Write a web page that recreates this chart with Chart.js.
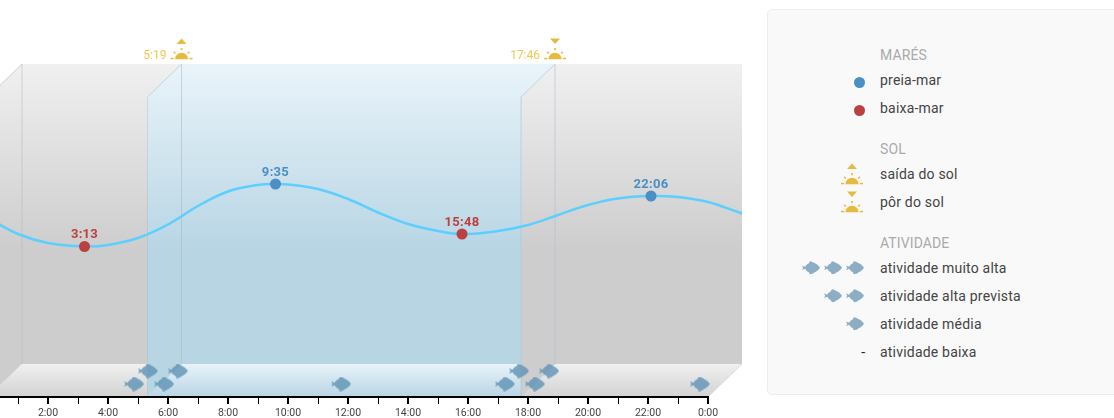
<!DOCTYPE html>
<html lang="pt">
<head>
<meta charset="utf-8">
<title>Marés</title>
<script src="https://cdn.jsdelivr.net/npm/chart.js@4"></script>
<style>
  html, body { margin: 0; padding: 0; width: 1114px; height: 418px; overflow: hidden; background: #fff; font-family: Roboto, sans-serif; }
  #tideChart { position: absolute; left: 0; top: 0; }
  #legendPanel { position: absolute; left: 767px; top: 9px; width: 400px; height: 384px; background: #f9f9f9; border: 1px solid #eee; border-radius: 5px; }
  .legend-row { position: absolute; left: 880px; font-size: 14px; line-height: 18px; color: #444; white-space: nowrap; letter-spacing: 0.2px; }
  .legend-title { color: #aaa; letter-spacing: 0.1px; }
  .legend-icons { position: absolute; right: 250px; display: flex; gap: 4px; align-items: center; justify-content: flex-end; height: 18px; }
  .legend-dot { width: 11px; height: 11px; border-radius: 50%; margin-right: -1px; }
  .legend-dash { color: #222; font-size: 14px; margin-right: -1px; margin-top: -1px; }
</style>
</head>
<body>
<canvas id="tideChart" width="742" height="418"></canvas>
<div id="legendPanel"></div>
<script>
// Tide curve, hours of the day and water level
const tideHours = [0, 1, 2, 3.217, 4, 5, 6, 7, 8, 9, 9.583, 10, 11, 12, 13, 14, 15, 15.8, 17, 18, 19, 20, 21, 22.1, 23, 24, 25, 26];
const tideLevels = [179, 163, 154, 150.5, 152, 159, 172.5, 191, 205.5, 212, 213, 212.5, 208, 198, 184.5, 173, 166, 163, 166, 172, 182, 192, 198.5, 201, 200, 195, 185, 175];

const highHours = [9.583, 22.1];
const highLevels = [213, 201];
const highLabels = ['9:35', '22:06'];

const lowHours = [3.217, 15.8];
const lowLevels = [150.5, 163];
const lowLabels = ['3:13', '15:48'];

// Sun
const sunriseHour = 5.317;
const sunsetHour = 17.767;
const sunLevel = 348;
const sunriseLabel = '5:19';
const sunsetLabel = '17:46';

// Fish activity marks on the two rows of the floor
const fishUpperHours = [5.33, 6.33, 17.7, 18.7];
const fishLowerHours = [4.87, 5.87, 11.77, 17.23, 18.23, 23.73];
const fishUpperLevel = 26;
const fishLowerLevel = 13;

// Axis and box
const hourTicks = [1, 2, 3, 4, 5, 6, 7, 8, 9, 10, 11, 12, 13, 14, 15, 16, 17, 18, 19, 20, 21, 22, 23, 24];
const xMin = 0.4;
const xMax = 25.133;
const yMax = 397;
const boxFrontTop = 300;
const depthHours = 34 / 30;
const depthLevels = 33;

const sunColor = '#e6b93f';
const sunTextColor = '#f4c650';
const highColor = '#4a90c4';
const lowColor = '#bb4040';

function makeFish(color, scale) {
    const c = document.createElement('canvas');
    c.width = Math.ceil(20 * scale);
    c.height = Math.ceil(15 * scale);
    const g = c.getContext('2d');
    g.scale(scale, scale);
    g.fillStyle = color;
    g.beginPath();
    g.moveTo(0, 5);
    g.lineTo(3.6, 6.3);
    g.bezierCurveTo(4.6, 4.6, 5.6, 3.4, 7.4, 2.8);
    g.lineTo(8.8, 0.2);
    g.bezierCurveTo(11, 0.4, 12.6, 1.2, 13.6, 2.2);
    g.bezierCurveTo(16.4, 3.2, 18.6, 5.4, 20, 7.5);
    g.bezierCurveTo(18.6, 9.6, 16.4, 11.8, 13.6, 12.8);
    g.bezierCurveTo(12.6, 13.8, 11, 14.6, 8.8, 14.8);
    g.lineTo(7.4, 12.2);
    g.bezierCurveTo(5.6, 11.6, 4.6, 10.4, 3.6, 8.7);
    g.lineTo(0, 10);
    g.lineTo(1.3, 7.5);
    g.closePath();
    g.fill();
    return c;
}

function makeSun(isRise) {
    const c = document.createElement('canvas');
    c.width = 24;
    c.height = 22;
    const g = c.getContext('2d');
    g.fillStyle = sunColor;
    g.beginPath();
    if (isRise) {
        g.moveTo(7, 6); g.lineTo(17, 6); g.lineTo(12, 0.5);
    } else {
        g.moveTo(7, 0.5); g.lineTo(17, 0.5); g.lineTo(12, 6);
    }
    g.closePath();
    g.fill();
    // half disc
    g.beginPath();
    g.moveTo(5.5, 21.2);
    g.arc(12, 21.2, 6.5, Math.PI, 0);
    g.closePath();
    g.fill();
    // rays
    g.fillRect(11.2, 10, 1.6, 2.2);
    g.fillRect(1, 19.8, 3.2, 1.5);
    g.fillRect(19.8, 19.8, 3.2, 1.5);
    g.save();
    g.translate(5, 14.6);
    g.rotate(Math.PI / 4);
    g.fillRect(-1.2, -0.7, 2.4, 1.4);
    g.restore();
    g.save();
    g.translate(19, 14.6);
    g.rotate(-Math.PI / 4);
    g.fillRect(-1.2, -0.7, 2.4, 1.4);
    g.restore();
    return c;
}

function toPoints(xs, ys) {
    return xs.map(function(x, i) { return { x: x, y: ys[i] }; });
}

function fillPoly(ctx, pts, fill) {
    ctx.fillStyle = fill;
    ctx.beginPath();
    pts.forEach(function(p, i) {
        if (i === 0) ctx.moveTo(p[0], p[1]); else ctx.lineTo(p[0], p[1]);
    });
    ctx.closePath();
    ctx.fill();
}

function strokeLine(ctx, x1, y1, x2, y2, color, width) {
    ctx.strokeStyle = color;
    ctx.lineWidth = width;
    ctx.beginPath();
    ctx.moveTo(x1, y1);
    ctx.lineTo(x2, y2);
    ctx.stroke();
}

// Box walls and floor behind the datasets
const boxPlugin = {
    id: 'tideBox',
    beforeDatasetsDraw: function(chart) {
        const ctx = chart.ctx;
        const sx = chart.scales.x;
        const sy = chart.scales.y;
        const dx = sx.getPixelForValue(depthHours) - sx.getPixelForValue(0);
        const dy = sy.getPixelForValue(0) - sy.getPixelForValue(depthLevels);
        const frontTop = sy.getPixelForValue(boxFrontTop);
        const frontBottom = sy.getPixelForValue(0);
        const backTop = frontTop - dy;
        const backBottom = frontBottom - dy;
        const x0 = sx.getPixelForValue(0);
        const x1 = sx.getPixelForValue(sunriseHour);
        const x2 = sx.getPixelForValue(sunsetHour);
        const x3 = sx.getPixelForValue(24);

        function grad(top, bottom, a, b, stop) {
            const g = ctx.createLinearGradient(0, top, 0, bottom);
            g.addColorStop(0, a);
            g.addColorStop(stop, b);
            g.addColorStop(1, b);
            return g;
        }
        const grayWall = grad(backTop, backBottom, '#f0f0f0', '#cdcdcd', 0.62);
        const blueWall = grad(backTop, backBottom, '#e9f4fa', '#b8d5e4', 0.62);
        const grayFloor = grad(backBottom, frontBottom, '#f0f0f0', '#d2d2d2', 1);
        const blueFloor = grad(backBottom, frontBottom, '#e8f3f9', '#b8d5e4', 1);

        ctx.save();
        // back wall
        fillPoly(ctx, [[x0 + dx, backTop], [x1 + dx, backTop], [x1 + dx, backBottom], [x0 + dx, backBottom]], grayWall);
        fillPoly(ctx, [[x1 + dx, backTop], [x2 + dx, backTop], [x2 + dx, backBottom], [x1 + dx, backBottom]], blueWall);
        fillPoly(ctx, [[x2 + dx, backTop], [x3 + dx, backTop], [x3 + dx, backBottom], [x2 + dx, backBottom]], grayWall);
        // floor
        fillPoly(ctx, [[x0 + dx, backBottom], [x1 + dx, backBottom], [x1, frontBottom], [x0, frontBottom]], grayFloor);
        fillPoly(ctx, [[x1 + dx, backBottom], [x2 + dx, backBottom], [x2, frontBottom], [x1, frontBottom]], blueFloor);
        fillPoly(ctx, [[x2 + dx, backBottom], [x3 + dx, backBottom], [x3, frontBottom], [x2, frontBottom]], grayFloor);
        // side walls
        fillPoly(ctx, [[x0, frontTop], [x0 + dx, backTop], [x0 + dx, backBottom], [x0, frontBottom]], grayWall);
        fillPoly(ctx, [[x1, frontTop], [x1 + dx, backTop], [x1 + dx, backBottom], [x1, frontBottom]], blueWall);
        fillPoly(ctx, [[x2, frontTop], [x2 + dx, backTop], [x2 + dx, backBottom], [x2, frontBottom]], grayWall);
        // edges
        strokeLine(ctx, x0 + dx, backTop, x0 + dx, backBottom, 'rgba(180,180,180,0.35)', 1.5);
        strokeLine(ctx, x0, frontTop, x0 + dx, backTop, '#d0d0d0', 1);
        strokeLine(ctx, x1 + dx, backTop, x1 + dx, backBottom, 'rgba(150,170,180,0.45)', 1);
        strokeLine(ctx, x1, frontTop, x1, frontBottom, 'rgba(150,175,190,0.3)', 1);
        strokeLine(ctx, x1, frontTop, x1 + dx, backTop, '#c8d2d8', 1);
        strokeLine(ctx, x2 + dx, backTop, x2 + dx, backBottom, 'rgba(170,190,205,0.4)', 1.5);
        strokeLine(ctx, x2, frontTop, x2, frontBottom, 'rgba(170,200,220,0.45)', 1.5);
        strokeLine(ctx, x2, frontTop, x2 + dx, backTop, '#c8d2d8', 1);
        strokeLine(ctx, x3, frontBottom, x3 + dx, backBottom, '#d5dde2', 1);
        strokeLine(ctx, x1, frontBottom, x1 + dx, backBottom, '#c5dbe7', 1);
        strokeLine(ctx, x2, frontBottom, x2 + dx, backBottom, '#c5d5df', 1);
        ctx.restore();
    },
    afterDatasetsDraw: function(chart) {
        // time labels over the tide points and beside the sun icons
        const ctx = chart.ctx;
        ctx.save();
        chart.data.datasets.forEach(function(ds, i) {
            if (!ds.timeLabels) return;
            chart.getDatasetMeta(i).data.forEach(function(el, j) {
                if (ds.sunLabel) {
                    ctx.font = '12px Roboto';
                    ctx.letterSpacing = '0px';
                    ctx.fillStyle = sunTextColor;
                    ctx.textAlign = 'right';
                    ctx.textBaseline = 'alphabetic';
                    ctx.fillText(ds.timeLabels[j], el.x - 15, el.y + 10);
                } else {
                    ctx.font = 'bold 13px Roboto';
                    ctx.letterSpacing = '0.3px';
                    ctx.fillStyle = ds.backgroundColor;
                    ctx.textAlign = 'center';
                    ctx.textBaseline = 'middle';
                    ctx.fillText(ds.timeLabels[j], el.x, el.y - 11.5);
                }
            });
        });
        ctx.restore();
    },
    afterDraw: function(chart) {
        // axis line stops at the last tick
        const sx = chart.scales.x;
        const y = chart.chartArea.bottom;
        strokeLine(chart.ctx, 0, y, sx.getPixelForValue(24) + 1, y, '#000', 2);
    }
};

function initializeChart() {
    const fishChart = makeFish('rgba(96,148,180,0.82)', 1);
    new Chart(document.getElementById('tideChart'), {
        type: 'scatter',
        data: {
            datasets: [{
                label: 'preia-mar',
                data: toPoints(highHours, highLevels),
                timeLabels: highLabels,
                backgroundColor: highColor,
                pointRadius: 5.5,
                pointBorderWidth: 0,
                order: 1
            }, {
                label: 'baixa-mar',
                data: toPoints(lowHours, lowLevels),
                timeLabels: lowLabels,
                backgroundColor: lowColor,
                pointRadius: 5.5,
                pointBorderWidth: 0,
                order: 1
            }, {
                label: 'maré',
                data: toPoints(tideHours, tideLevels),
                showLine: true,
                borderColor: '#5ccfff',
                borderWidth: 2.5,
                tension: 0.4,
                pointRadius: 0,
                order: 2
            }, {
                label: 'saída do sol',
                data: [{ x: sunriseHour + depthHours, y: sunLevel }],
                timeLabels: [sunriseLabel],
                sunLabel: true,
                pointStyle: makeSun(true),
                pointRadius: 10,
                clip: false,
                order: 3
            }, {
                label: 'pôr do sol',
                data: [{ x: sunsetHour + depthHours, y: sunLevel }],
                timeLabels: [sunsetLabel],
                sunLabel: true,
                pointStyle: makeSun(false),
                pointRadius: 10,
                clip: false,
                order: 3
            }, {
                label: 'atividade',
                data: fishUpperHours.map(function(h) { return { x: h, y: fishUpperLevel }; }),
                pointStyle: fishChart,
                pointRadius: 10,
                order: 4
            }, {
                label: 'atividade',
                data: fishLowerHours.map(function(h) { return { x: h, y: fishLowerLevel }; }),
                pointStyle: fishChart,
                pointRadius: 10,
                order: 4
            }]
        },
        options: {
            responsive: false,
            animation: false,
            events: [],
            layout: { padding: 0, autoPadding: false },
            plugins: { legend: { display: false }, tooltip: { enabled: false } },
            scales: {
                x: {
                    type: 'linear',
                    min: xMin,
                    max: xMax,
                    afterBuildTicks: function(scale) {
                        scale.ticks = hourTicks.map(function(v) { return { value: v }; });
                    },
                    afterFit: function(scale) { scale.height = 21; },
                    border: { display: false },
                    grid: {
                        drawOnChartArea: false,
                        tickLength: 7,
                        color: '#000',
                        lineWidth: function(c) { return c.tick && c.tick.value % 2 === 0 ? 2 : 1; }
                    },
                    ticks: {
                        autoSkip: false,
                        maxRotation: 0,
                        padding: 3,
                        color: '#444',
                        font: { family: 'Roboto', size: 10.5 },
                        callback: function(v) { return v % 2 === 0 ? (v % 24) + ':00' : ''; }
                    }
                },
                y: { display: false, min: 0, max: yMax }
            }
        },
        plugins: [boxPlugin]
    });
}

// Legend on the right
const legendTitles = [['MARÉS', 46], ['SOL', 140], ['ATIVIDADE', 234]];
const legendLabels = ['preia-mar', 'baixa-mar', 'saída do sol', 'pôr do sol', 'atividade muito alta', 'atividade alta prevista', 'atividade média', 'atividade baixa'];
const legendTops = [71, 99, 165, 193, 259, 287, 315, 343];

function addLegendRow(text, top, cls) {
    const row = document.createElement('div');
    row.className = 'legend-row' + (cls ? ' ' + cls : '');
    row.style.top = top + 'px';
    row.textContent = text;
    document.body.appendChild(row);
}

function addLegendIcons(top, nodes, offset) {
    const box = document.createElement('div');
    box.className = 'legend-icons';
    box.style.top = (top + (offset || 0)) + 'px';
    nodes.forEach(function(n) { box.appendChild(n); });
    document.body.appendChild(box);
}

function dot(color) {
    const d = document.createElement('div');
    d.className = 'legend-dot';
    d.style.background = color;
    return d;
}

function initializeLegend() {
    legendTitles.forEach(function(t) { addLegendRow(t[0], t[1], 'legend-title'); });
    legendLabels.forEach(function(label, i) { addLegendRow(label, legendTops[i]); });
    const fish = function() { return makeFish('#8dadc4', 0.9); };
    addLegendIcons(legendTops[0], [dot(highColor)], 2);
    addLegendIcons(legendTops[1], [dot(lowColor)], 2);
    addLegendIcons(legendTops[2], [makeSun(true)]);
    addLegendIcons(legendTops[3], [makeSun(false)]);
    addLegendIcons(legendTops[4], [fish(), fish(), fish()]);
    addLegendIcons(legendTops[5], [fish(), fish()]);
    addLegendIcons(legendTops[6], [fish()]);
    const dash = document.createElement('span');
    dash.className = 'legend-dash';
    dash.textContent = '-';
    addLegendIcons(legendTops[7], [dash]);
}

document.addEventListener('DOMContentLoaded', function() {
    initializeChart();
    initializeLegend();
});
</script>
</body>
</html>
